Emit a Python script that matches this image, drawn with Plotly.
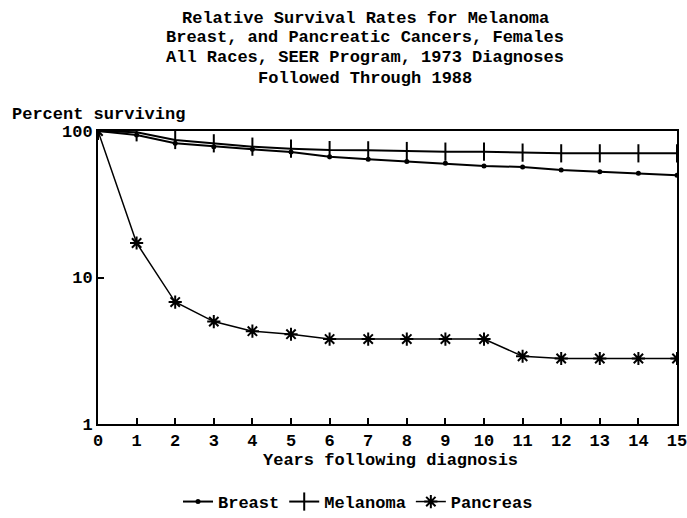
import plotly.graph_objects as go

years = list(range(0, 16))
breast = [100, 93.9, 82.4, 78.2, 75.0, 71.9, 66.8, 64.1, 61.8, 60.2, 57.7, 56.8, 54.2, 52.8, 51.4, 49.8]
melanoma = [100, 98, 86.8, 82.4, 78.2, 75.8, 74.1, 73.8, 73.0, 72.3, 72.3, 71.2, 70.4, 70.4, 70.4, 70.4]
pancreas = [100, 17.2, 6.8, 5.0, 4.3, 4.1, 3.8, 3.8, 3.8, 3.8, 3.8, 2.9, 2.8, 2.8, 2.8, 2.8]
y_ticks = [1, 10, 100]
title_lines = ["Relative Survival Rates for Melanoma",
               "Breast, and Pancreatic Cancers, Females",
               "All Races, SEER Program, 1973 Diagnoses",
               "Followed Through 1988"]

FONT = "Liberation Mono"
FS = 17
W, H = 687, 518
L, R, T, B = 98, 10, 131, 94
pw, ph = W - L - R, H - T - B


def px_x(p):
    return (p - L) / pw


def px_y(p):
    return (H - B - p) / ph


def fnt(size=FS):
    return dict(family=FONT, size=size, color="black", weight="bold")


fig = go.Figure()
fig.add_trace(go.Scatter(x=years, y=breast, name="Breast", mode="lines+markers",
                         line=dict(color="black", width=2),
                         marker=dict(symbol="circle", size=5, color="black")))
fig.add_trace(go.Scatter(x=years, y=melanoma, name="Melanoma", mode="lines+markers",
                         line=dict(color="black", width=2),
                         marker=dict(symbol="line-ns-open", size=13,
                                     line=dict(color="black", width=2))))
fig.add_trace(go.Scatter(x=years, y=pancreas, name="Pancreas", mode="lines+markers",
                         line=dict(color="black", width=1.5),
                         marker=dict(symbol="asterisk-open", size=11,
                                     line=dict(color="black", width=2))))

fig.update_layout(
    width=W, height=H,
    margin=dict(l=L, r=R, t=T, b=B, autoexpand=False),
    paper_bgcolor="white", plot_bgcolor="white",
    font=fnt(),
    showlegend=True,
    legend=dict(orientation="h", x=px_x(178), xanchor="left", y=px_y(502), yanchor="middle",
                font=fnt(), itemwidth=30, bgcolor="rgba(0,0,0,0)"),
    xaxis=dict(range=[0, 15], tickmode="array", tickvals=years,
               ticks="inside", ticklen=6, tickwidth=1.5, tickcolor="black",
               showline=True, linecolor="black", linewidth=2, mirror=True,
               showgrid=False, zeroline=False, tickfont=fnt(), automargin=False,
               ticklabeloverflow="allow"),
    yaxis=dict(type="log", range=[0, 2], tickmode="array", tickvals=y_ticks,
               ticktext=[str(v) for v in y_ticks],
               ticks="inside", ticklen=6, tickwidth=1.5, tickcolor="black",
               showline=True, linecolor="black", linewidth=2, mirror=True,
               showgrid=False, zeroline=False, tickfont=fnt(), automargin=False),
)

for line, yc in zip(title_lines, [18, 38, 57, 78]):
    fig.add_annotation(text=line, xref="paper", yref="paper",
                       x=px_x(365), y=px_y(yc), xanchor="center", yanchor="middle",
                       showarrow=False, font=fnt())

fig.add_annotation(text="Percent surviving", xref="paper", yref="paper",
                   x=px_x(10), y=px_y(114), xanchor="left", yanchor="middle",
                   showarrow=False, font=fnt())
fig.add_annotation(text="Years following diagnosis", xref="paper", yref="paper",
                   x=px_x(390), y=px_y(461), xanchor="center", yanchor="middle",
                   showarrow=False, font=fnt())

fig.write_html("out.html",
               config={"displayModeBar": False},
               post_script="document.body.style.margin='0px';"
                           "document.documentElement.style.overflow='hidden';")
